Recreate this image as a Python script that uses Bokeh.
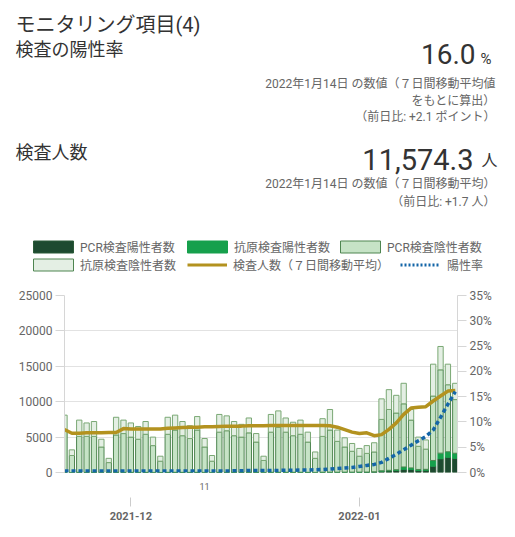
import pandas as pd
from bokeh.plotting import figure
from bokeh.models import (Range1d, LinearAxis, FixedTicker, PrintfTickFormatter,
                          NumeralTickFormatter, Legend, LegendItem, ColumnDataSource)
from bokeh.layouts import column
from bokeh.core.properties import value
from bokeh.embed import file_html
from bokeh.resources import INLINE

# ---------------- data ----------------
dates = list(pd.date_range("2021-11-22", "2022-01-14", freq="D"))

pcr_pos = [22, 9, 24, 19, 21, 14, 6, 25, 20, 22, 17, 21, 13, 7,
           24, 26, 21, 18, 25, 15, 8, 27, 26, 24, 22, 28, 19, 9,
           30, 33, 31, 29, 32, 24, 14, 38, 45, 40, 42, 44, 48, 55,
           80, 190, 240, 300, 450, 420, 280, 310, 900, 1950, 2150, 2000]
ag_pos = [3, 1, 3, 2, 3, 2, 1, 3, 2, 3, 2, 3, 2, 1,
          3, 3, 2, 2, 3, 2, 1, 3, 3, 3, 2, 3, 2, 1,
          4, 4, 4, 3, 4, 3, 2, 5, 6, 6, 6, 7, 8, 9,
          14, 50, 70, 90, 330, 230, 150, 140, 800, 780, 780, 720]
pcr_neg = [5975, 2390, 5073, 5079, 5076, 3584, 1393, 5272, 5478, 4975, 4681, 5376, 3785, 1592,
           5373, 5971, 5177, 4780, 5972, 3583, 1591, 5670, 5871, 5173, 4976, 5569, 4279, 1690,
           5666, 6363, 5665, 5168, 5364, 4273, 1984, 5057, 5949, 4354, 3552, 2949, 2244, 2636,
           2806, 7260, 8590, 8010, 8920, 6750, 3270, 2850, 9100, 11770, 9470, 7580]
ag_neg = [2100, 800, 2300, 1900, 2100, 1100, 600, 2500, 1900, 2000, 1800, 1800, 1200, 700,
          2400, 2100, 2000, 1800, 1900, 1200, 800, 2500, 2100, 2000, 1800, 2100, 1200, 600,
          2500, 2300, 2000, 1900, 2000, 1400, 900, 2500, 2900, 1600, 1300, 1100, 1100, 1100,
          1300, 2900, 2800, 2500, 2900, 1500, 1300, 1300, 4500, 3300, 2900, 2300]
tests_ma = [6050, 5550, 5550, 5600, 5600, 5600, 5650, 5650, 6200, 6150, 6150, 6150, 6150, 6150,
            6250, 6300, 6350, 6400, 6400, 6450, 6450, 6500, 6550, 6550, 6550, 6600, 6600, 6600,
            6650, 6650, 6650, 6650, 6650, 6650, 6650, 6650, 6600, 6400, 6050, 5700, 5500, 5600,
            5200, 5350, 6100, 7000, 8200, 9100, 9200, 9300, 10100, 10800, 11500, 11574.3]
pos_rate = [0.3, 0.3, 0.3, 0.3, 0.3, 0.3, 0.3, 0.3, 0.3, 0.3, 0.3, 0.3, 0.3, 0.3,
            0.3, 0.3, 0.3, 0.3, 0.3, 0.3, 0.3, 0.3, 0.3, 0.35, 0.35, 0.4, 0.4, 0.4,
            0.4, 0.4, 0.45, 0.45, 0.5, 0.5, 0.55, 0.6, 0.7, 0.8, 0.9, 1.0, 1.2, 1.4,
            1.6, 2.0, 2.8, 3.6, 4.5, 5.4, 6.3, 7.1, 8.4, 10.9, 13.5, 16.0]

series_labels = ["PCR検査陽性者数", "抗原検査陽性者数", "PCR検査陰性者数",
                 "抗原検査陰性者数", "検査人数（７日間移動平均）", "陽性率"]
left_ticks = [0, 5000, 10000, 15000, 20000, 25000]
right_ticks = [0, 5, 10, 15, 20, 25, 30, 35]
day_label_dates = ["2021-12-11"]

title_main = "モニタリング項目(4)"
sec1_title = "検査の陽性率"
sec1_value = "16.0"
sec1_unit = "%"
sec1_notes = ["2022年1月14日 の数値（７日間移動平均値", "をもとに算出）", "（前日比: +2.1 ポイント）"]
sec2_title = "検査人数"
sec2_value = "11,574.3"
sec2_unit = "人"
sec2_notes = ["2022年1月14日 の数値（７日間移動平均）", "（前日比: +1.7 人）"]

# ---------------- styles ----------------
FONT = 'Roboto, "Noto Sans CJK JP"'
C_PCR_POS = "#1d4a30"
C_AG_POS = "#16a04c"
C_PCR_NEG = "#c6e3c6"
C_AG_NEG = "#e4efe4"
C_EDGE = "#4e8550"
C_GOLD = "#b3921f"
C_BLUE = "#1466a8"
C_TXT = "#333333"
C_SUB = "#666666"

W = 515
HH = 280

# ---------------- header ----------------
hdr = figure(width=W, height=HH, x_range=Range1d(0, W), y_range=Range1d(HH, 0),
             output_backend="svg", toolbar_location=None, min_border=0,
             x_axis_location=None, y_axis_location=None, outline_line_color=None)
hdr.frame_align = False
hdr.grid.visible = False

def txt(x, y, s, size, color, align="left", baseline="middle"):
    hdr.text(x=[x], y=[y], text=[s], text_font=value(FONT), text_font_size=value(size),
             text_color=color, text_align=align, text_baseline=baseline)

txt(15, 24.5, title_main, "20px", C_TXT)
txt(15, 49, sec1_title, "18px", C_TXT)
txt(475, 53.5, sec1_value, "28px", C_TXT, align="right")
txt(480, 58.5, sec1_unit, "15px", C_TXT)
for k, s in enumerate(sec1_notes):
    txt(495, 83.5 + 16.5 * k, s, "12px", C_SUB, align="right")
txt(15, 152, sec2_title, "18px", C_TXT)
txt(473, 158.5, sec2_value, "29px", C_TXT, align="right")
txt(481, 159.5, sec2_unit, "16px", C_TXT)
for k, s in enumerate(sec2_notes):
    txt(495, 183 + 18 * k, s, "12px", C_SUB, align="right")

# legend: stand-in renderers (a single NaN point, draws nothing) with the series styles
nan = float("nan")
d1 = hdr.vbar(x=[nan], top=[nan], width=0.5, fill_color=C_PCR_POS, line_color="#2b5a38")
d2 = hdr.vbar(x=[nan], top=[nan], width=0.5, fill_color=C_AG_POS, line_color=C_AG_POS)
d3 = hdr.vbar(x=[nan], top=[nan], width=0.5, fill_color=C_PCR_NEG, line_color=C_EDGE)
d4 = hdr.vbar(x=[nan], top=[nan], width=0.5, fill_color=C_AG_NEG, line_color=C_EDGE)
d5 = hdr.line(x=[nan], y=[nan], line_color=C_GOLD, line_width=3)
d6 = hdr.line(x=[nan], y=[nan], line_color=C_BLUE, line_width=3, line_dash="2 2")
dummies = [d1, d2, d3, d4, d5, d6]
leg_pos = [(28, 25.5, 50, 2), (182, 25.5, 50, 2), (335, 25.5, 50, 2),
           (28, 7.5, 50, 2), (187, 7.5, 40, 6), (400, 7.5, 40, 7)]
for lab, r, (lx, ly, gw, st) in zip(series_labels, dummies, leg_pos):
    lg = Legend(items=[LegendItem(label=lab, renderers=[r])], location=(lx, ly),
                orientation="horizontal", glyph_width=gw, glyph_height=15,
                label_height=15, label_standoff=st, padding=0, margin=0, spacing=0,
                border_line_color=None, background_fill_alpha=0,
                label_text_font=FONT, label_text_font_size="12px",
                label_text_color=C_SUB)
    hdr.add_layout(lg)

# ---------------- chart ----------------
x = list(range(len(dates)))
src = ColumnDataSource(dict(x=x, pcr_pos=pcr_pos, ag_pos=ag_pos, pcr_neg=pcr_neg,
                            ag_neg=ag_neg, tests_ma=tests_ma, pos_rate=pos_rate))

p = figure(width=W, height=257, x_range=Range1d(0.0, 53.3), y_range=Range1d(0, 25000),
           output_backend="svg", toolbar_location=None, x_axis_location=None,
           min_border_top=15, min_border_left=64, min_border_right=58, min_border_bottom=65,
           outline_line_color=None)
p.frame_align = False
p.extra_y_ranges = {"pct": Range1d(0, 35)}
p.xgrid.visible = False
p.ygrid.ticker = FixedTicker(ticks=left_ticks)
p.ygrid.grid_line_color = "#e2e2e2"

p.yaxis[0].ticker = FixedTicker(ticks=left_ticks)
p.yaxis[0].formatter = NumeralTickFormatter(format="0")
rax = LinearAxis(y_range_name="pct", ticker=FixedTicker(ticks=right_ticks),
                 formatter=PrintfTickFormatter(format="%d%%"))
p.add_layout(rax, "right")
for ax in [p.yaxis[0], rax]:
    ax.axis_line_color = "#d6d6d6"
    ax.major_tick_line_color = "#d6d6d6"
    ax.major_tick_in = 0
    ax.major_tick_out = 9
    ax.minor_tick_line_color = None
    ax.major_label_standoff = 3
    ax.major_label_text_font = FONT
    ax.major_label_text_font_size = "12px"
    ax.major_label_text_color = C_SUB

day_idx = [dates.index(pd.Timestamp(d)) for d in day_label_dates]
month_idx = [i for i, d in enumerate(dates) if d.day == 1]
ax1 = LinearAxis(ticker=FixedTicker(ticks=day_idx),
                 major_label_overrides={i: str(dates[i].day) for i in day_idx},
                 axis_line_color=None, major_tick_line_color=None, major_tick_in=0,
                 major_tick_out=0, minor_tick_line_color=None,
                 major_label_text_font=FONT, major_label_text_font_size="9px",
                 major_label_text_color=C_SUB, major_label_standoff=10)
ax2 = LinearAxis(ticker=FixedTicker(ticks=month_idx),
                 major_label_overrides={i: dates[i].strftime("%Y-%m") for i in month_idx},
                 axis_line_color=None, major_tick_line_color="#cccccc", major_tick_in=-5,
                 major_tick_out=14, minor_tick_line_color=None,
                 major_label_text_font=FONT, major_label_text_font_size="11px",
                 major_label_text_font_style="bold",
                 major_label_text_color=C_SUB, major_label_standoff=5)
p.add_layout(ax1, "below")
p.add_layout(ax2, "below")

p.vbar_stack(["pcr_pos", "ag_pos", "pcr_neg", "ag_neg"], x="x", width=0.72, source=src,
             fill_color=[C_PCR_POS, C_AG_POS, C_PCR_NEG, C_AG_NEG],
             line_color=["#2b5a38", C_AG_POS, C_EDGE, "#7aa874"], line_width=1)
p.line("x", "tests_ma", source=src, line_color=C_GOLD, line_width=3.5)
p.line("x", "pos_rate", source=src, y_range_name="pct", line_color=C_BLUE,
       line_width=3.5, line_dash="4 3")

layout = column(hdr, p, spacing=0)
open("out.html", "w").write(file_html(layout, INLINE))
